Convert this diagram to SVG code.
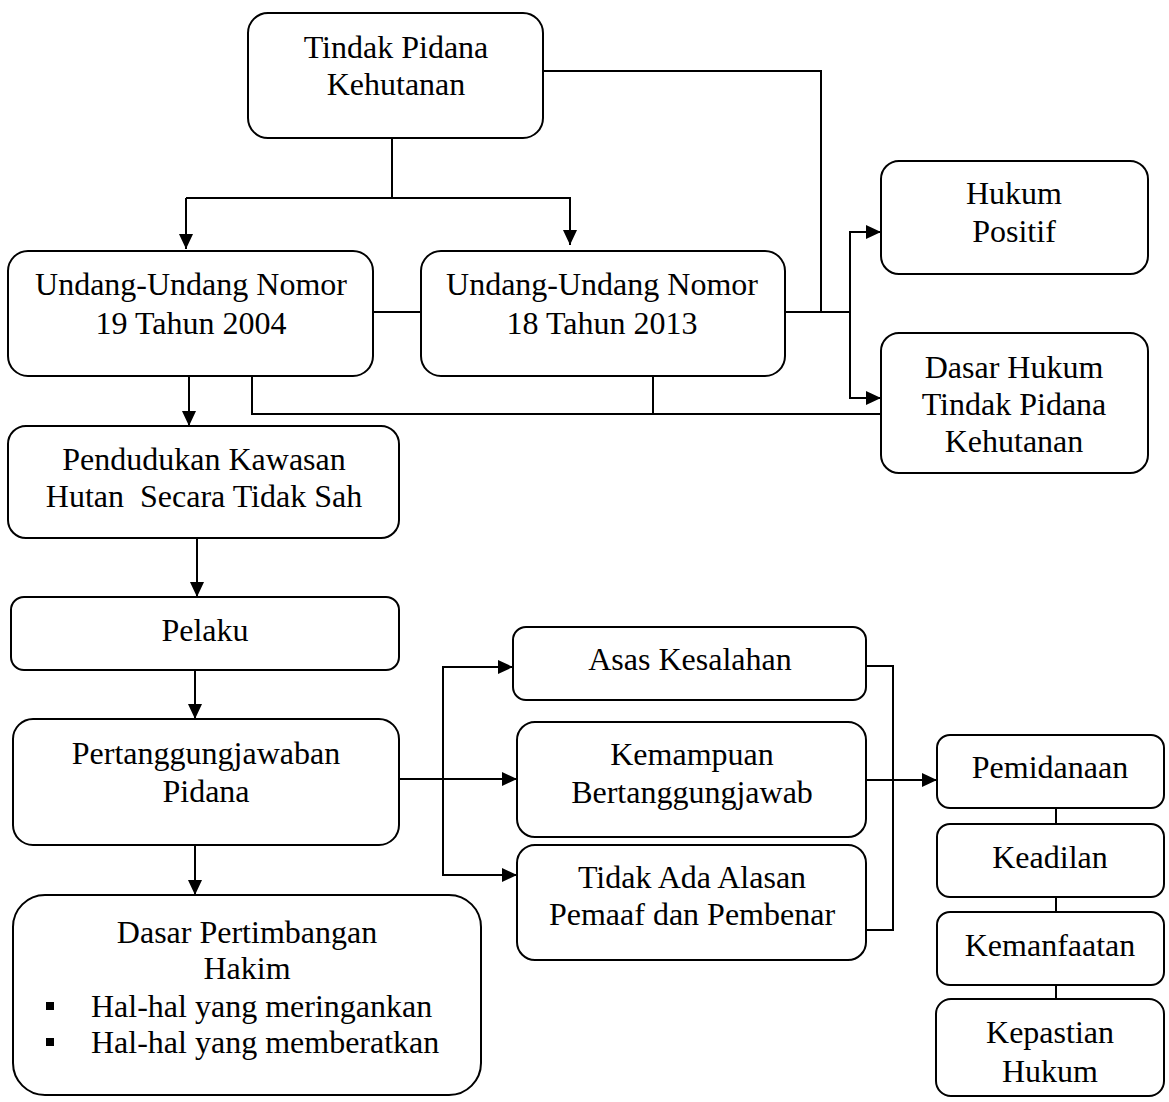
<svg xmlns="http://www.w3.org/2000/svg" width="1169" height="1102" viewBox="0 0 1169 1102">
<defs>
<marker id="ah" markerUnits="userSpaceOnUse" markerWidth="16" markerHeight="16" refX="15" refY="7" orient="auto"><path d="M0,0 L15,7 L0,14 z" fill="#000"/></marker>
</defs>
<style>
.b{fill:#fff;stroke:#000;stroke-width:2}
.t{font-family:"Liberation Serif","Times New Roman",serif;font-size:32px;fill:#000;text-anchor:middle}
.l{fill:none;stroke:#000;stroke-width:2}
.a{fill:none;stroke:#000;stroke-width:2;marker-end:url(#ah)}
</style>
<rect width="1169" height="1102" fill="#fff"/>
<g id="connectors">
<polyline class="l" points="543,71 821,71 821,312"/>
<polyline class="l" points="392,138 392,198"/>
<polyline class="a" points="186,198 186,249"/>
<polyline class="a" points="570,198 570,245"/>
<line class="l" x1="186" y1="198" x2="571" y2="198"/>
<line class="l" x1="373" y1="312" x2="421" y2="312"/>
<line class="l" x1="785" y1="312" x2="850" y2="312"/>
<polyline class="a" points="850,312 850,232 881,232"/>
<polyline class="a" points="850,312 850,398 881,398"/>
<polyline class="l" points="252,376 252,414 881,414"/>
<line class="l" x1="653" y1="376" x2="653" y2="414"/>
<line class="a" x1="189" y1="376" x2="189" y2="426"/>
<line class="a" x1="197" y1="538" x2="197" y2="597"/>
<line class="a" x1="195" y1="670" x2="195" y2="719"/>
<line class="a" x1="195" y1="845" x2="195" y2="895"/>
<line class="a" x1="399" y1="779" x2="517" y2="779"/>
<polyline class="a" points="443,779 443,667 513,667"/>
<polyline class="a" points="443,779 443,875 517,875"/>
<polyline class="l" points="866,666 893,666 893,930 866,930"/>
<line class="a" x1="866" y1="780" x2="937" y2="780"/>
<line class="l" x1="1056" y1="808" x2="1056" y2="824"/>
<line class="l" x1="1056" y1="897" x2="1056" y2="912"/>
<line class="l" x1="1056" y1="985" x2="1056" y2="999"/>
</g>
<g id="n1"><rect class="b" x="248" y="13" width="295" height="125" rx="20"/><text class="t" x="396" y="58">Tindak Pidana</text><text class="t" x="396" y="95">Kehutanan</text></g>
<g id="n2"><rect class="b" x="8" y="251" width="365" height="125" rx="20"/><text class="t" x="191" y="295">Undang-Undang Nomor</text><text class="t" x="191" y="334">19 Tahun 2004</text></g>
<g id="n3"><rect class="b" x="421" y="251" width="364" height="125" rx="20"/><text class="t" x="602" y="295">Undang-Undang Nomor</text><text class="t" x="602" y="334">18 Tahun 2013</text></g>
<g id="n4"><rect class="b" x="881" y="161" width="267" height="113" rx="18"/><text class="t" x="1014" y="204">Hukum</text><text class="t" x="1014" y="242">Positif</text></g>
<g id="n5"><rect class="b" x="881" y="333" width="267" height="140" rx="18"/><text class="t" x="1014" y="378">Dasar Hukum</text><text class="t" x="1014" y="415">Tindak Pidana</text><text class="t" x="1014" y="452">Kehutanan</text></g>
<g id="n6"><rect class="b" x="8" y="426" width="391" height="112" rx="18"/><text class="t" x="204" y="470">Pendudukan Kawasan</text><text class="t" x="204" y="507" xml:space="preserve">Hutan  Secara Tidak Sah</text></g>
<g id="n7"><rect class="b" x="11" y="597" width="388" height="73" rx="13"/><text class="t" x="205" y="641">Pelaku</text></g>
<g id="n8"><rect class="b" x="13" y="719" width="386" height="126" rx="20"/><text class="t" x="206" y="764">Pertanggungjawaban</text><text class="t" x="206" y="802">Pidana</text></g>
<g id="n9"><rect class="b" x="13" y="895" width="468" height="200" rx="32"/><text class="t" x="247" y="943">Dasar Pertimbangan</text><text class="t" x="247" y="979">Hakim</text><rect x="46" y="1002" width="8" height="8" fill="#000"/><text class="t" x="91" y="1017" style="text-anchor:start">Hal-hal yang meringankan</text><rect x="46" y="1038" width="8" height="8" fill="#000"/><text class="t" x="91" y="1053" style="text-anchor:start">Hal-hal yang memberatkan</text></g>
<g id="n10"><rect class="b" x="513" y="627" width="353" height="73" rx="13"/><text class="t" x="690" y="670">Asas Kesalahan</text></g>
<g id="n11"><rect class="b" x="517" y="722" width="349" height="115" rx="18"/><text class="t" x="692" y="765">Kemampuan</text><text class="t" x="692" y="803">Bertanggungjawab</text></g>
<g id="n12"><rect class="b" x="517" y="845" width="349" height="115" rx="18"/><text class="t" x="692" y="888">Tidak Ada Alasan</text><text class="t" x="692" y="925">Pemaaf dan Pembenar</text></g>
<g id="n13"><rect class="b" x="937" y="735" width="227" height="73" rx="13"/><text class="t" x="1050" y="778">Pemidanaan</text></g>
<g id="n14"><rect class="b" x="937" y="824" width="227" height="73" rx="13"/><text class="t" x="1050" y="868">Keadilan</text></g>
<g id="n15"><rect class="b" x="937" y="912" width="227" height="73" rx="13"/><text class="t" x="1050" y="956">Kemanfaatan</text></g>
<g id="n16"><rect class="b" x="936" y="999" width="228" height="97" rx="15"/><text class="t" x="1050" y="1043">Kepastian</text><text class="t" x="1050" y="1082">Hukum</text></g>
</svg>
